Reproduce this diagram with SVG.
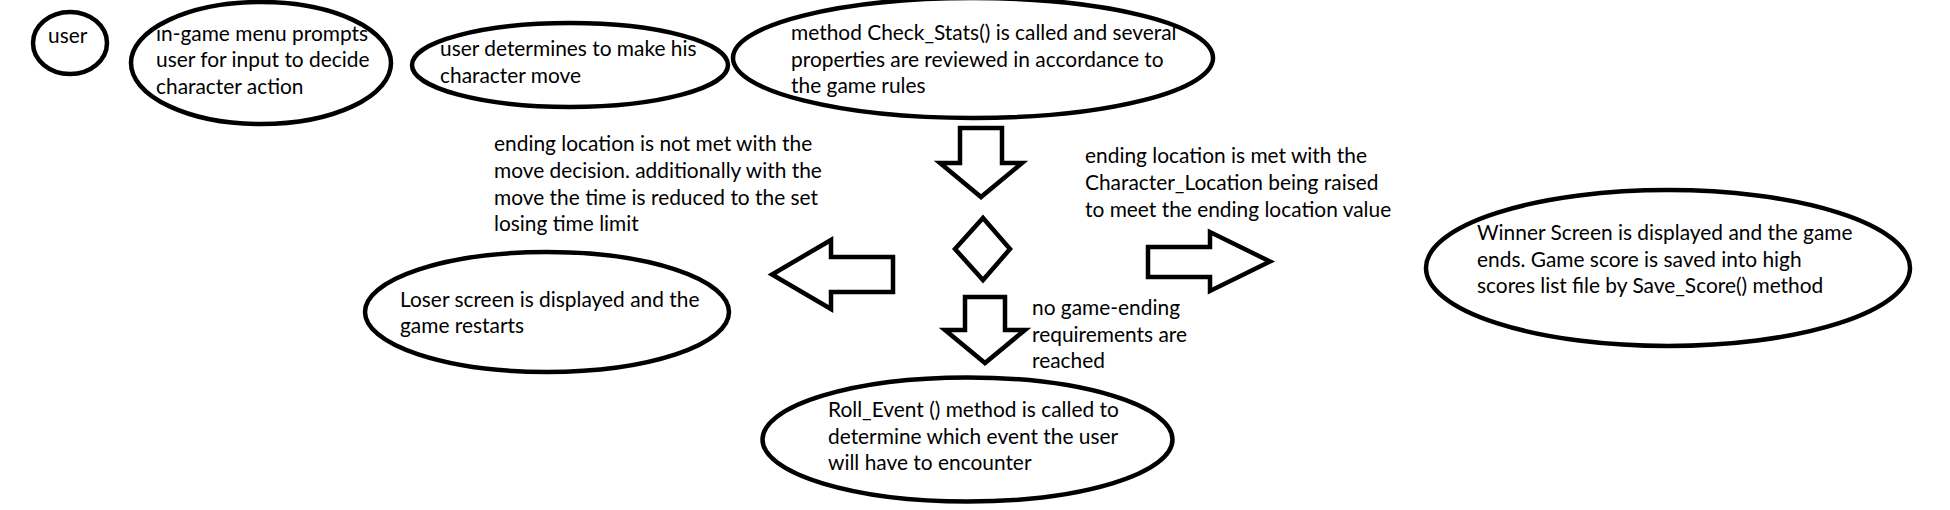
<svg xmlns="http://www.w3.org/2000/svg" width="1950" height="510" viewBox="0 0 1950 510">
<style>
.bg{fill:#ffffff}
.node{fill:none;stroke:#000000;stroke-width:4.5}
.shape{fill:none;stroke:#000000;stroke-width:4.5;stroke-linejoin:miter}
text{font-family:Lato,"Open Sans","Liberation Sans",sans-serif;font-size:20.9px;fill:#000000}
</style>
<rect class="bg" x="0" y="0" width="1950" height="510"/>
<g id="connectors">
<polygon class="shape" points="960,128 1002,128 1002,163 1022,163 981,197 940,163 960,163"/>
<polygon class="shape" points="983,218 1010,249 983,280 955,249"/>
<polygon class="shape" points="1148,247 1210,247 1210,232 1270,261.5 1210,291 1210,277 1148,277"/>
<polygon class="shape" points="893,257 831,257 831,240 772,274.5 831,309 831,292 893,292"/>
<polygon class="shape" points="965,297 1005,297 1005,330 1025,330 985,363 945,330 965,330"/>
</g>
<g id="label-lose">
<text x="494" y="151">ending location is not met with the</text>
<text x="494" y="178">move decision. additionally with the</text>
<text x="494" y="205">move the time is reduced to the set</text>
<text x="494" y="231">losing time limit</text>
</g>
<g id="label-win">
<text x="1085" y="163">ending location is met with the</text>
<text x="1085" y="190">Character_Location being raised</text>
<text x="1085" y="217">to meet the ending location value</text>
</g>
<g id="label-continue">
<text x="1032" y="315">no game-ending</text>
<text x="1032" y="342">requirements are</text>
<text x="1032" y="368">reached</text>
</g>
<g id="user">
<text x="48" y="43">user</text>
<ellipse class="node" cx="70" cy="43" rx="37" ry="31"/>
</g>
<g id="menu">
<text x="156" y="41">in-game menu prompts</text>
<text x="156" y="67">user for input to decide</text>
<text x="156" y="94">character action</text>
<ellipse class="node" cx="261" cy="63" rx="130" ry="61"/>
</g>
<g id="move">
<text x="440" y="56">user determines to make his</text>
<text x="440" y="83">character move</text>
<ellipse class="node" cx="570" cy="65" rx="158" ry="42"/>
</g>
<g id="check">
<text x="791" y="40">method Check_Stats() is called and several</text>
<text x="791" y="67">properties are reviewed in accordance to</text>
<text x="791" y="93">the game rules</text>
<ellipse class="node" cx="973" cy="58" rx="240" ry="60"/>
</g>
<g id="loser">
<text x="400" y="307">Loser screen is displayed and the</text>
<text x="400" y="333">game restarts</text>
<ellipse class="node" cx="547" cy="312" rx="182" ry="60"/>
</g>
<g id="roll">
<text x="828" y="417">Roll_Event () method is called to</text>
<text x="828" y="444">determine which event the user</text>
<text x="828" y="470">will have to encounter</text>
<ellipse class="node" cx="967.5" cy="439.5" rx="205" ry="62"/>
</g>
<g id="winner">
<text x="1477" y="240">Winner Screen is displayed and the game</text>
<text x="1477" y="267">ends. Game score is saved into high</text>
<text x="1477" y="293">scores list file by Save_Score() method</text>
<ellipse class="node" cx="1668" cy="268" rx="242" ry="78"/>
</g>
</svg>
